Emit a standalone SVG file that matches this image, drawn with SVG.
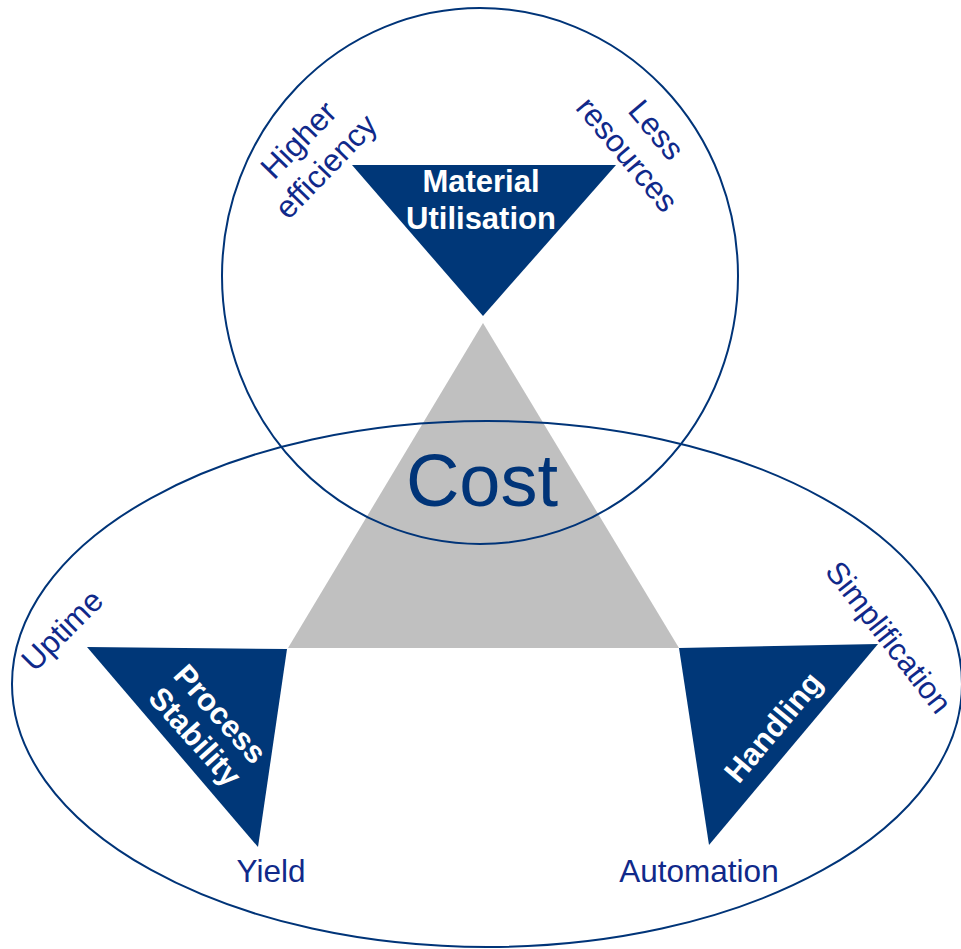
<svg xmlns="http://www.w3.org/2000/svg" width="961" height="949" viewBox="0 0 961 949">
  <style>
    .ring { fill: none; stroke: #003478; stroke-width: 2; }
    .tri { fill: #003778; }
    .core { fill: #c0c0c0; }
    .lbl { font-family: "Liberation Sans", Arial, sans-serif; font-size: 31.5px; fill: #10298a; }
    .head { font-family: "Liberation Sans", Arial, sans-serif; font-size: 31px; font-weight: bold; fill: #ffffff; text-anchor: middle; }
    .cost { font-family: "Liberation Sans", Arial, sans-serif; font-size: 74px; fill: #003478; text-anchor: middle; }
  </style>

  <!-- central cost triangle -->
  <g id="cost">
    <polygon class="core" points="483,323 288,648 679,648"/>
  </g>

  <!-- outline rings -->
  <g id="rings">
    <ellipse class="ring" cx="480" cy="276" rx="258" ry="268"/>
    <ellipse class="ring" cx="487" cy="684" rx="475" ry="263"/>
  </g>

  <text class="cost" x="482" y="506">Cost</text>

  <!-- Material Utilisation -->
  <g id="material-utilisation">
    <polygon class="tri" points="352,165 616,165 483,316"/>
    <text class="head" x="481" y="192">Material</text>
    <text class="head" x="481" y="229">Utilisation</text>
    <g class="lbl" text-anchor="middle" transform="translate(312,153) rotate(-46)">
      <text y="-8">Higher</text>
      <text y="30">efficiency</text>
    </g>
    <g class="lbl" text-anchor="middle" transform="translate(642,142) rotate(50)">
      <text y="-8">Less</text>
      <text y="30">resources</text>
    </g>
  </g>

  <!-- Process Stability -->
  <g id="process-stability">
    <polygon class="tri" points="87,647 287,649 258,847"/>
    <g class="head" transform="translate(208,725) rotate(48)">
      <text y="-6">Process</text>
      <text y="28">Stability</text>
    </g>
    <text class="lbl" text-anchor="middle" transform="translate(62,630) rotate(-45)" y="11">Uptime</text>
    <text class="lbl" x="271" y="882" text-anchor="middle">Yield</text>
  </g>

  <!-- Handling -->
  <g id="handling">
    <polygon class="tri" points="679,648 878,644 709,845"/>
    <text class="head" transform="translate(773,727) rotate(-50)" y="11">Handling</text>
    <text class="lbl" style="font-size:31px" text-anchor="middle" transform="translate(889,637) rotate(52)" y="11">Simplification</text>
    <text class="lbl" x="699" y="882" text-anchor="middle">Automation</text>
  </g>
</svg>
